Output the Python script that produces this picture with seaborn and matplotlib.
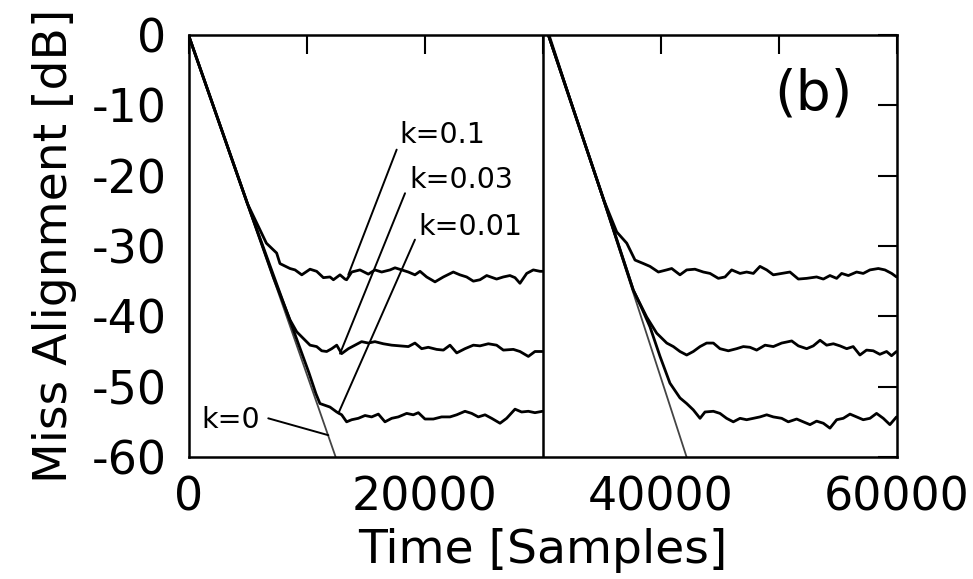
import matplotlib
matplotlib.use("Agg")
import matplotlib.pyplot as plt
import seaborn as sns
import pandas as pd

# ---------------- data ----------------
k0_first_t = [0, 12470]
k0_first_db = [0, -60.0]
k0_second_t = [30600, 42250]
k0_second_db = [0, -60.2]

k01_first_t = [0, 5000, 5800, 6600, 7470, 7750, 8600, 9030, 9600, 10300, 10860,
               11430, 11990, 12280, 12840, 13260, 13400, 13830, 14530, 15240, 15800,
               16370, 17080, 17500, 18070, 18630, 19190, 19620, 20180, 20890, 21600,
               22440, 23000, 23570, 24140, 24700, 25270, 26110, 26680, 27240, 27670,
               28090, 28660, 29220, 29790, 30000]
k01_first_db = [0, -24.0, -26.8, -29.6, -31.0, -32.5, -33.2, -33.4, -34.1, -33.3, -33.6,
                -34.5, -34.4, -34.8, -34.1, -34.7, -34.8, -33.7, -33.4, -34.0, -33.4,
                -33.7, -33.4, -33.1, -33.4, -33.7, -34.1, -33.6, -34.4, -35.1, -34.4,
                -33.7, -34.1, -34.4, -35.0, -34.8, -34.2, -34.7, -34.4, -34.2, -34.5,
                -35.3, -33.9, -33.4, -33.6, -33.6]

k003_first_t = [0, 5000, 7200, 7900, 8600, 9170, 10300, 10860, 11290, 11710,
                12140, 12560, 12980, 13550, 14110, 14670, 15240, 15800, 16510, 17220,
                17920, 18630, 19190, 19760, 20320, 21030, 21600, 22160, 22730, 23430,
                24140, 24700, 25410, 26110, 26680, 27530, 28090, 28800, 29360, 30000]
k003_first_db = [0, -24.0, -34.5, -37.5, -40.5, -42.2, -44.1, -44.3, -44.9, -45.0,
                 -44.6, -44.1, -45.3, -44.6, -44.1, -43.6, -43.8, -43.6, -43.9, -44.1,
                 -44.2, -44.3, -43.8, -44.6, -44.4, -44.7, -44.8, -44.1, -45.2, -44.6,
                 -44.1, -44.2, -43.9, -44.1, -44.8, -44.7, -45.0, -45.7, -45.0, -45.0]

k001_first_t = [0, 5000, 8900, 10200, 10800, 11140, 11990, 12560, 12980, 13400,
                13830, 14390, 14960, 15520, 16090, 16650, 17220, 17780, 18490, 19050,
                19480, 20040, 20750, 21450, 22160, 22730, 23430, 24000, 24560, 25130,
                25690, 26400, 26960, 27670, 28230, 28800, 29360, 30000]
k001_first_db = [0, -24.0, -42.0, -48.0, -51.0, -52.4, -52.9, -53.6, -54.0, -55.0,
                 -54.7, -54.5, -54.1, -54.3, -53.9, -55.0, -54.5, -54.3, -53.8, -54.0,
                 -53.7, -54.6, -54.6, -54.3, -54.3, -54.0, -53.5, -53.8, -54.3, -54.0,
                 -54.5, -55.2, -54.5, -53.2, -53.6, -53.5, -53.7, -53.5]

k01_second_t = [30500, 35200, 36290, 37140, 37840, 38560, 39110, 39820, 40520, 40950,
                41650, 42220, 42920, 43630, 44200, 44900, 45470, 46030, 46740, 47300,
                47870, 48430, 49000, 49560, 50270, 50970, 51680, 52390, 53230, 53800,
                54360, 54930, 55350, 55920, 56620, 57180, 57750, 58460, 59020, 59590, 60000]
k01_second_db = [0, -23.5, -28.0, -29.6, -32.0, -32.5, -32.9, -33.7, -33.4, -33.2,
                 -34.1, -33.4, -33.3, -33.7, -33.9, -34.6, -34.4, -33.4, -33.9, -33.7,
                 -33.9, -32.9, -33.4, -34.1, -33.9, -33.7, -34.7, -34.6, -34.4, -34.7,
                 -34.2, -34.6, -33.9, -34.2, -33.7, -33.9, -33.4, -33.2, -33.4, -33.9, -34.4]

k003_second_t = [30500, 35200, 37700, 38830, 39680, 40530, 41090, 41650, 42220, 42780,
                 43350, 43910, 44480, 45040, 45750, 46450, 47020, 47580, 48150, 48860,
                 49560, 50270, 51120, 51680, 52390, 52950, 53520, 54080, 54650, 55210,
                 55780, 56330, 56900, 57460, 58030, 58590, 59160, 59580, 60000]
k003_second_db = [0, -23.5, -36.3, -40.1, -42.4, -43.8, -44.3, -45.0, -45.5, -45.0,
                  -44.3, -43.8, -43.8, -44.6, -44.9, -44.6, -44.3, -44.4, -44.8, -44.1,
                  -44.3, -43.8, -43.5, -44.2, -44.6, -44.2, -43.4, -44.1, -43.9, -44.2,
                  -44.6, -44.3, -45.5, -44.8, -44.9, -45.4, -45.0, -45.6, -45.0]

k001_second_t = [30500, 35200, 37700, 38400, 39110, 39960, 40800, 41650, 42220, 42780,
                 43350, 43770, 44480, 45040, 45600, 46170, 46740, 47300, 47870, 48430,
                 49000, 49560, 50270, 50830, 51540, 52100, 52670, 53230, 53800, 54360,
                 54930, 55490, 56060, 56620, 57180, 57750, 58310, 58880, 59440, 60000]
k001_second_db = [0, -23.5, -36.3, -38.8, -41.5, -45.7, -49.5, -51.6, -52.4, -53.3,
                  -54.5, -53.6, -53.5, -53.8, -54.5, -55.0, -54.5, -54.7, -54.5, -54.3,
                  -54.0, -54.3, -54.5, -55.0, -54.6, -55.0, -55.4, -54.9, -55.2, -55.9,
                  -54.7, -54.5, -53.9, -54.3, -54.7, -54.5, -53.8, -54.5, -55.4, -54.3]

x_ticks = [0, 10000, 20000, 30000, 40000, 50000, 60000]
x_ticklabels = ["0", "", "20000", "", "40000", "", "60000"]
y_ticks = [0, -10, -20, -30, -40, -50, -60]
y_ticklabels = ["0", "-10", "-20", "-30", "-40", "-50", "-60"]

# label texts, text anchor (left, v-center) and leader line (start -> end on curve)
labels = ["k=0.1", "k=0.03", "k=0.01", "k=0"]
label_pos = [(17900, -14.2), (18750, -20.6), (19500, -27.3), (1050, -54.7)]
leader_start = [(17640, -16.3), (18350, -22.5), (19190, -29.1), (6760, -54.5)]
leader_end = [(13540, -34.1), (12840, -45.3), (12700, -53.8), (11850, -56.9)]

# ---------------- build table ----------------
segments = [
    ("k=0", "a", k0_first_t, k0_first_db),
    ("k=0", "b", k0_second_t, k0_second_db),
    ("k=0.1", "a", k01_first_t, k01_first_db),
    ("k=0.1", "b", k01_second_t, k01_second_db),
    ("k=0.03", "a", k003_first_t, k003_first_db),
    ("k=0.03", "b", k003_second_t, k003_second_db),
    ("k=0.01", "a", k001_first_t, k001_first_db),
    ("k=0.01", "b", k001_second_t, k001_second_db),
]
rows = []
for k, part, ts, ds in segments:
    for t, d in zip(ts, ds):
        rows.append({"k": k, "part": part, "t": t, "db": d})
df = pd.DataFrame(rows)

# ---------------- plot ----------------
sns.set_style("white")
plt.rcParams["font.family"] = ["DejaVu Sans"]
plt.rcParams["text.color"] = "black"
plt.rcParams["axes.labelcolor"] = "black"

fig = plt.figure(figsize=(9.73, 5.79), dpi=100)
W, H = 973, 579
L, R, T, B = 188.5, 896.5, 35, 457
ax = fig.add_axes([L / W, (H - B) / H, (R - L) / W, (B - T) / H])

for (k, part), sub in df.groupby(["k", "part"], sort=False):
    thin = k == "k=0"
    sns.lineplot(data=sub, x="t", y="db", ax=ax, sort=False, estimator=None,
                 color="#444444" if thin else "black",
                 linewidth=1.3 if thin else 2.0, legend=False)

ax.axvline(30000, color="black", linewidth=1.8)

for lab, (tx, ty), s, e in zip(labels, label_pos, leader_start, leader_end):
    ax.annotate("", xy=e, xytext=s,
                arrowprops=dict(arrowstyle="-", color="black", lw=1.4,
                                shrinkA=0, shrinkB=0))
    ax.text(tx, ty, lab, fontsize=20.5, ha="left", va="center", color="black")

ax.text(53000, -8.5, "(b)", fontsize=40, ha="center", va="center", color="black")

ax.set_xlim(0, 60000)
ax.set_ylim(-60, 0)
ax.set_xticks(x_ticks)
ax.set_xticklabels(x_ticklabels)
ax.set_yticks(y_ticks)
ax.set_yticklabels(y_ticklabels)
ax.tick_params(axis="both", direction="in", length=14, width=1.5,
               top=True, right=True, labelsize=33, colors="black")
ax.tick_params(axis="x", pad=13)
ax.tick_params(axis="y", pad=16)
for sp in ax.spines.values():
    sp.set_linewidth(1.8)
    sp.set_color("black")

ax.set_xlabel("Time [Samples]", fontsize=34, labelpad=6, color="black")
ax.set_ylabel("Miss Alignment [dB]", fontsize=34, labelpad=10, color="black")

fig.savefig("out.png", dpi=100)
